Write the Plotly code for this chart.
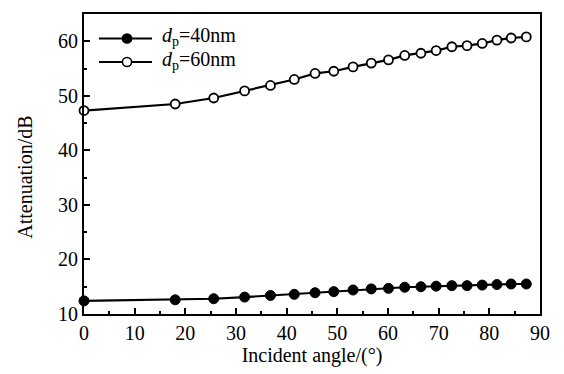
import plotly.graph_objects as go

angles = [0, 18.0, 25.6, 31.7, 36.8, 41.5, 45.6, 49.3, 53.1, 56.7, 60.1, 63.3, 66.5, 69.5, 72.6, 75.6, 78.6, 81.5, 84.3, 87.3]
att_40nm = [12.4, 12.6, 12.8, 13.1, 13.4, 13.6, 13.9, 14.1, 14.4, 14.6, 14.7, 14.9, 15.0, 15.1, 15.2, 15.2, 15.3, 15.4, 15.5, 15.5]
att_60nm = [47.3, 48.5, 49.6, 50.9, 51.9, 53.0, 54.1, 54.5, 55.3, 56.0, 56.6, 57.4, 57.8, 58.3, 59.0, 59.2, 59.6, 60.2, 60.6, 60.8]
labels = ["<i>d</i><sub>p</sub>=40nm", "<i>d</i><sub>p</sub>=60nm"]
x_title = "Incident angle/(°)"
y_title = "Attenuation/dB"

FAM = "Liberation Serif"
font = dict(family=FAM, size=20, color="black")

fig = go.Figure()
fig.add_trace(go.Scatter(
    x=angles, y=att_40nm, mode="lines+markers", name=labels[0],
    line=dict(color="black", width=2.2),
    marker=dict(symbol="circle", size=10, color="black", line=dict(color="black", width=1)),
    cliponaxis=False, showlegend=False,
))
fig.add_trace(go.Scatter(
    x=angles, y=att_60nm, mode="lines+markers", name=labels[1],
    line=dict(color="black", width=2.2),
    marker=dict(symbol="circle", size=9, color="white", line=dict(color="black", width=1.8)),
    cliponaxis=False, showlegend=False,
))

# Manual legend (layout decoration in paper coordinates)
W, H = 564, 374
L, R, T, B = 84, 24, 12, 56
pw, ph = W - L - R, H - T - B
def px(x):
    return (x - L) / pw
def py(y):
    return 1 - (y - T) / ph

legend_rows = [(37, "black"), (61, "white")]
for (yy, fill), lab in zip(legend_rows, labels):
    fig.add_shape(type="line", xref="paper", yref="paper",
                  x0=px(99), x1=px(152), y0=py(yy), y1=py(yy),
                  line=dict(color="black", width=2))
    r = 4.6
    fig.add_shape(type="circle", xref="paper", yref="paper",
                  x0=px(127 - r), x1=px(127 + r), y0=py(yy + r), y1=py(yy - r),
                  fillcolor=fill, line=dict(color="black", width=1.6))
    fig.add_annotation(xref="paper", yref="paper", x=px(160), y=py(yy - 2),
                       text=lab, showarrow=False, xanchor="left", yanchor="middle",
                       font=font)

# y-axis title (placed as in the reference, slightly below plot centre)
fig.add_annotation(xref="paper", yref="paper", x=px(25), y=py(178),
                   text=y_title, textangle=-90, showarrow=False,
                   xanchor="center", yanchor="middle", font=font)

axis_common = dict(
    showline=True, linecolor="black", linewidth=2, mirror=True,
    ticks="inside", ticklen=6, tickwidth=1.5, tickcolor="black",
    showgrid=False, zeroline=False, tickfont=font,
)
fig.update_xaxes(
    range=[0, 90], tick0=0, dtick=10,
    minor=dict(ticks="inside", ticklen=3, tickwidth=1.5, tickcolor="black", dtick=5),
    title=dict(text=x_title, font=font, standoff=4),
    **axis_common,
)
fig.update_yaxes(
    range=[10, 65], tick0=10, dtick=10,
    minor=dict(ticks="inside", ticklen=3, tickwidth=1.5, tickcolor="black", dtick=5),
    **axis_common,
)
fig.update_layout(
    width=W, height=H,
    margin=dict(l=L, r=R, t=T, b=B),
    paper_bgcolor="white", plot_bgcolor="white",
    font=font,
    showlegend=False,
)
fig.write_html("out.html")
